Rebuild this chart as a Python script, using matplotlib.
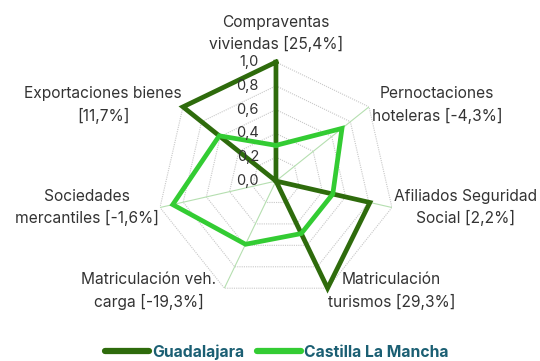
import numpy as np
import matplotlib.pyplot as plt
from matplotlib.transforms import offset_copy
from matplotlib.lines import Line2D

plt.rcParams['font.family'] = ['Inter', 'DejaVu Sans']

categories = [
    "Compraventas\nviviendas [25,4%]",
    "Pernoctaciones\nhoteleras [-4,3%]",
    "Afiliados Seguridad\nSocial [2,2%]",
    "Matriculación\nturismos [29,3%]",
    "Matriculación veh.\ncarga [-19,3%]",
    "Sociedades\nmercantiles [-1,6%]",
    "Exportaciones bienes\n[11,7%]",
]
guadalajara = [1.0, 0.0, 0.81, 1.0, 0.0, 0.0, 1.0]
castilla = [0.30, 0.71, 0.49, 0.49, 0.59, 0.89, 0.61]
rticks = [0.0, 0.2, 0.4, 0.6, 0.8, 1.0]
rtick_labels = ["0,0", "0,2", "0,4", "0,6", "0,8", "1,0"]

dark = "#2e6b0c"
bright = "#33cc33"
text_col = "#333333"
legend_col = "#1b5f73"

n = len(categories)
theta = np.linspace(0, 2 * np.pi, n, endpoint=False)
theta_c = np.append(theta, theta[0])

fig = plt.figure(figsize=(5.4, 3.61), dpi=100)
ax = fig.add_axes([0.2907, 0.169, 0.4407, 0.659], projection='polar')
ax.set_theta_offset(np.pi / 2)
ax.set_theta_direction(-1)
ax.set_ylim(0, 1)
ax.grid(False)
ax.spines['polar'].set_visible(False)
ax.set_xticks([])
ax.set_yticks([])
ax.patch.set_alpha(0)

# heptagon rings and spokes
for r in rticks[1:]:
    ax.plot(theta_c, [r] * (n + 1), color="#c8c8c8", lw=0.8,
            linestyle=(0, (1, 1)), zorder=1)
for t in theta:
    ax.plot([t, t], [0, 1], color="#b5dfb0", lw=0.8, zorder=1)

ax.plot(theta_c, guadalajara + guadalajara[:1], color=dark, lw=3.4,
        solid_joinstyle='miter', zorder=3, clip_on=False)
ax.plot(theta_c, castilla + castilla[:1], color=bright, lw=3.4,
        solid_joinstyle='miter', zorder=4, clip_on=False)

# radial tick labels left of the top spoke
for r, lab in zip(rticks, rtick_labels):
    tr = offset_copy(ax.transData, fig=fig, x=-17, y=0, units='dots')
    ax.text(0, r, lab, transform=tr, ha='right', va='center',
            fontsize=10.5, color=text_col, zorder=5)

# category labels next to the outer vertices
label_offsets = [(0, 10), (3, 2), (2, 0), (0, -3), (-8, -3), (-1, 0), (-1, 2)]
for t, lab, (dx, dy) in zip(theta, categories, label_offsets):
    s = np.sin(t)
    if abs(s) < 0.1:
        ha, va = 'center', 'bottom'
    elif s > 0:
        ha, va = 'left', 'center'
    else:
        ha, va = 'right', 'center'
    tr = offset_copy(ax.transData, fig=fig, x=dx, y=dy, units='dots')
    ax.text(t, 1.0, lab, transform=tr, ha=ha, va=va, multialignment='center',
            fontsize=11.2, color=text_col, linespacing=1.5)

handles = [Line2D([], [], color=dark, lw=4.5, solid_capstyle='round'),
           Line2D([], [], color=bright, lw=4.5, solid_capstyle='round')]
leg = fig.legend(handles, ["Guadalajara", "Castilla La Mancha"], loc='lower center',
                 bbox_to_anchor=(0.512, -0.035), ncol=2, frameon=False,
                 handlelength=2.8, handletextpad=0.2, columnspacing=0.8,
                 prop={'weight': 'bold', 'size': 11.3})
for txt in leg.get_texts():
    txt.set_color(legend_col)

fig.savefig("out.png", dpi=100)
